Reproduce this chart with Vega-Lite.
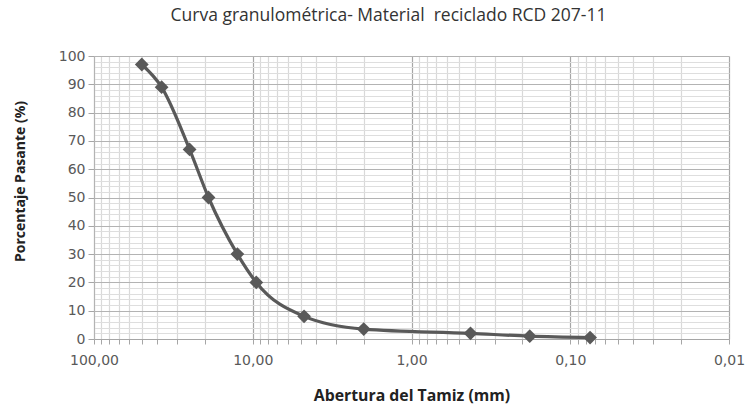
{
  "$schema": "https://vega.github.io/schema/vega-lite/v6.json",
  "width": 635,
  "height": 283,
  "autosize": {"type": "none"},
  "padding": {"left": 94, "top": 56, "right": 18, "bottom": 69},
  "background": "white",
  "title": {
    "text": "Curva granulométrica- Material\u00a0 reciclado RCD 207-11",
    "font": "Open Sans",
    "fontSize": 17.5,
    "fontWeight": "normal",
    "color": "#333333",
    "anchor": "middle",
    "frame": "group",
    "dx": -23,
    "offset": 25
  },
  "data": {
    "values": [
      {"abertura": 50, "pasante": 97},
      {"abertura": 37.5, "pasante": 89},
      {"abertura": 25, "pasante": 67},
      {"abertura": 19, "pasante": 50},
      {"abertura": 12.5, "pasante": 30},
      {"abertura": 9.5, "pasante": 20},
      {"abertura": 4.75, "pasante": 8},
      {"abertura": 2.0, "pasante": 3.5},
      {"abertura": 0.425, "pasante": 2},
      {"abertura": 0.18, "pasante": 1},
      {"abertura": 0.075, "pasante": 0.5}
    ]
  },
  "encoding": {
    "x": {
      "field": "abertura",
      "type": "quantitative",
      "scale": {"type": "log", "domain": [0.01, 100], "reverse": true, "nice": false},
      "axis": {
        "title": "Abertura del Tamiz (mm)",
        "titleFont": "Open Sans",
        "titleFontSize": 15.8,
        "titleFontWeight": "bold",
        "titleColor": "#222222",
        "titleBaseline": "middle",
        "titleY": 56,
        "values": [100, 90, 80, 70, 60, 50, 40, 30, 20, 10, 9, 8, 7, 6, 5, 4, 3, 2, 1, 0.9, 0.8, 0.7, 0.6, 0.5, 0.4, 0.3, 0.2, 0.1, 0.09, 0.08, 0.07, 0.06, 0.05, 0.04, 0.03, 0.02, 0.01],
        "labelExpr": "abs(log(datum.value)/LN10 - round(log(datum.value)/LN10)) < 1e-6 ? replace(format(datum.value, '.2f'), '.', ',') : ''",
        "labelFont": "DejaVu Sans",
        "labelFontSize": 14,
        "labelColor": "#595959",
        "labelPadding": 9,
        "labelOverlap": false,
        "labelFlush": false,
        "grid": true,
        "gridColor": {
          "condition": {"test": "abs(log(datum.value)/LN10 - round(log(datum.value)/LN10)) < 1e-6", "value": "#a6a6a6"},
          "value": "#d9d9d9"
        },
        "gridWidth": 1.2,
        "ticks": true,
        "tickSize": 5,
        "tickColor": "#a6a6a6",
        "domain": true,
        "domainColor": "#a6a6a6"
      }
    },
    "y": {
      "field": "pasante",
      "type": "quantitative",
      "scale": {"domain": [0, 100], "nice": false},
      "axis": {
        "title": "Porcentaje Pasante (%)",
        "titleFont": "Open Sans",
        "titleFontSize": 14,
        "titleFontWeight": "bold",
        "titleColor": "#222222",
        "titleX": -74,
        "titleY": 125,
        "titleAngle": -90,
        "titleBaseline": "middle",
        "titleAlign": "center",
        "values": [0, 2, 4, 6, 8, 10, 12, 14, 16, 18, 20, 22, 24, 26, 28, 30, 32, 34, 36, 38, 40, 42, 44, 46, 48, 50, 52, 54, 56, 58, 60, 62, 64, 66, 68, 70, 72, 74, 76, 78, 80, 82, 84, 86, 88, 90, 92, 94, 96, 98, 100],
        "labelExpr": "datum.value % 10 == 0 ? format(datum.value, 'd') : ''",
        "labelFont": "DejaVu Sans",
        "labelFontSize": 14,
        "labelColor": "#595959",
        "labelPadding": 3,
        "labelOverlap": false,
        "grid": true,
        "gridColor": {
          "condition": {"test": "datum.value % 10 == 0", "value": "#b3b3b3"},
          "value": "#dedede"
        },
        "gridWidth": 1.2,
        "ticks": true,
        "tickSize": 6,
        "tickColor": "#a6a6a6",
        "tickOpacity": {
          "condition": {"test": "datum.value % 10 == 0", "value": 1},
          "value": 0
        },
        "domain": true,
        "domainColor": "#b3b3b3"
      }
    }
  },
  "layer": [
    {
      "mark": {"type": "line", "interpolate": "monotone", "color": "#595959", "strokeWidth": 3.2},
      "encoding": {
        "order": {"field": "abertura", "sort": "descending"}
      }
    },
    {
      "mark": {"type": "point", "shape": "diamond", "filled": true, "color": "#595959", "opacity": 1, "size": 190}
    }
  ],
  "config": {
    "view": {"stroke": null}
  }
}
